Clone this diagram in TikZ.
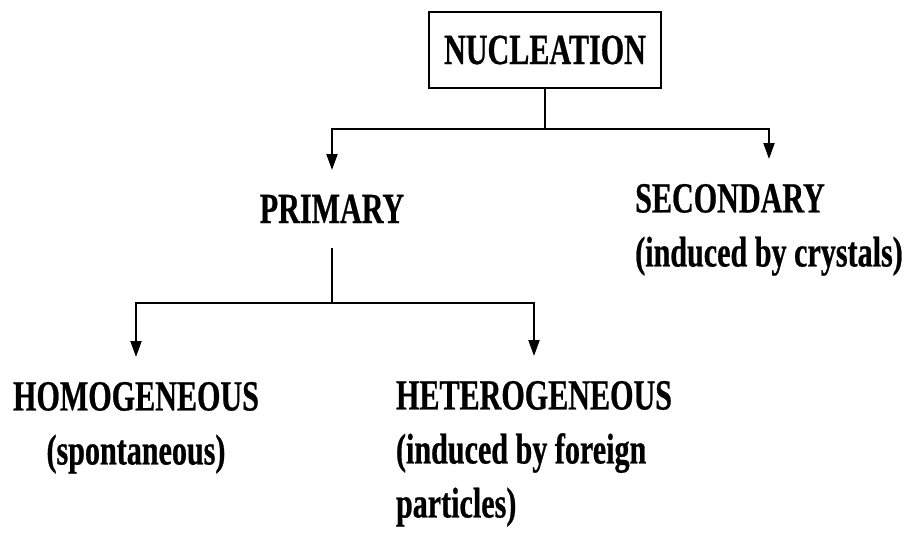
\documentclass[tikz,border=0pt]{standalone}
\usepackage{fontspec}
\newfontfamily\diagfont{Liberation Serif}[FakeStretch=0.70, FakeBold=0.6]
\usetikzlibrary{arrows.meta, positioning}
\tikzset{
  rootbox/.style={
    rectangle, draw, line width=2.5pt, minimum width=232pt, minimum height=76pt,
    inner sep=0pt, font=\diagfont\bfseries\fontsize{43}{54}\selectfont
  },
  label/.style={
    inner sep=0pt, outer ysep=25pt,
    font=\diagfont\bfseries\fontsize{43}{54}\selectfont
  },
  arrow/.style={-{Triangle[length=16pt, width=11pt]}, line width=2pt},
  branch/.style={line width=2pt}
}
\begin{document}
\begin{tikzpicture}[x=1pt, y=-1pt]
  \useasboundingbox (0,0) rectangle (911,533);

  \node[rootbox] (nuc) at (545,50) {NUCLEATION};

  \node[label, anchor=base, text height=28pt] (prim) at (332,223) {PRIMARY};
  \node[label, anchor=north, align=left] (sec) at (769,159)
    {SECONDARY\\(induced by crystals)};

  \node[label, anchor=north, align=center] (homo) at (136,357)
    {HOMOGENEOUS\\(spontaneous)};
  \node[label, anchor=north, align=left] (het) at (534,356)
    {HETEROGENEOUS\\(induced by foreign\\particles)};

  % first level
  \draw[branch] (nuc.south) -- ++(0,40) coordinate (top);
  \draw[arrow] (top) -| (prim.north);
  \draw[arrow] (top) -| (sec.north);

  % second level
  \draw[branch] (prim.south) -- ++(0,55) coordinate (mid);
  \draw[arrow] (mid) -| (homo.north);
  \draw[arrow] (mid) -| (het.north);
\end{tikzpicture}
\end{document}
